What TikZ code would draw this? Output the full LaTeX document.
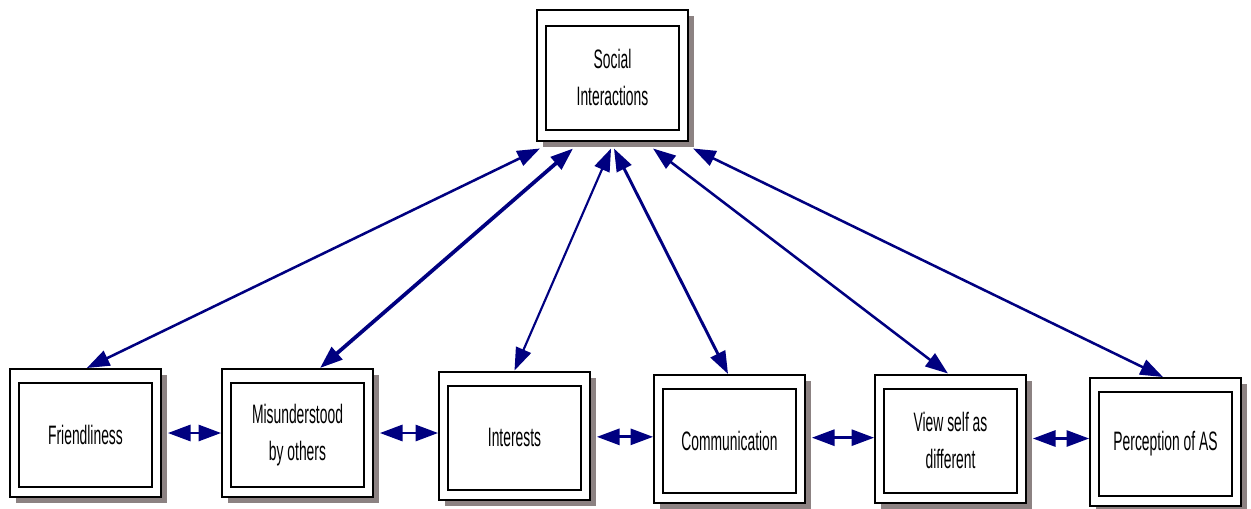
\documentclass[tikz,border=0pt]{standalone}
\usepackage{fontspec}
\setmainfont{Liberation Sans}[FakeStretch=0.52]
\usetikzlibrary{arrows.meta,shadows}
\definecolor{linknavy}{RGB}{0,0,128}
\definecolor{shadowgray}{RGB}{140,130,130}
\tikzset{outerbox/.style={draw,fill=white,line width=1.5pt,minimum width=113pt,
minimum height=96pt,drop shadow={shadow xshift=4.5pt,shadow yshift=-4.5pt,
fill=shadowgray,opacity=1}},
innerbox/.style={draw,line width=1.5pt,minimum width=100pt,minimum height=78pt,
align=center,font=\fontsize{20}{28}\selectfont},
link/.style={draw=linknavy,line width=#1,
{Triangle[length=17pt,width=12pt]}-{Triangle[length=17pt,width=12pt]}}}
\newcommand{\concept}[4][]{
\node[outerbox,#1] (#2) at (#3) {};
\node[innerbox] (#2-in) at ([yshift=-1.5pt]#2.center) {#4};
}

\begin{document}
\begin{tikzpicture}[x=0.75pt,y=-0.75pt]
    \useasboundingbox (0,0) rectangle (1251,508);
    % top
    \concept[minimum height=98pt]{social}{612.5,75.5}{Social\\Interactions}
    % bottom row
    \concept{friend}{85.5,433}{Friendliness}
    \concept{misund}{297.5,433}{Misunderstood\\by others}
    \concept{interest}{514.5,435.5}{Interests}
    \concept{comm}{729.5,439}{Communication}
    \concept{viewself}{950.5,438.5}{View self as\\different}
    \concept{percep}{1165.5,442}{Perception of AS}
    % links to the top
    \draw[link=1.9pt] ([xshift=-54.4pt,yshift=-5pt]social.south) -- ([xshift=1pt]friend.north);
    \draw[link=2.8pt] ([xshift=-29.6pt,yshift=-5pt]social.south) -- ([xshift=16.9pt]misund.north);
    \draw[link=1.6pt] ([xshift=-1.1pt,yshift=-5pt]social.south) -- (interest.north);
    \draw[link=2.2pt] ([xshift=1.1pt,yshift=-5pt]social.south) -- ([xshift=-1.1pt]comm.north);
    \draw[link=1.9pt] ([xshift=30.4pt,yshift=-5pt]social.south) -- ([xshift=-1.9pt]viewself.north);
    \draw[link=1.9pt] ([xshift=60.4pt,yshift=-5pt]social.south) -- ([xshift=-1.9pt]percep.north);
    % links along the row
    \draw[link=2.2pt] ([xshift=4.5pt]friend.east) -- (misund.west |- friend.east);
    \draw[link=2.2pt] ([xshift=4.5pt]misund.east) -- (interest.west |- misund.east);
    \draw[link=2.2pt] ([xshift=4.5pt,yshift=-1pt]interest.east) -- ([yshift=-1pt]comm.west |- interest.east);
    \draw[link=2.2pt] ([xshift=4.5pt,yshift=1pt]comm.east) -- ([yshift=1pt]viewself.west |- comm.east);
    \draw[link=2.2pt] ([xshift=4.5pt]viewself.east) -- (percep.west |- viewself.east);
\end{tikzpicture}
\end{document}
